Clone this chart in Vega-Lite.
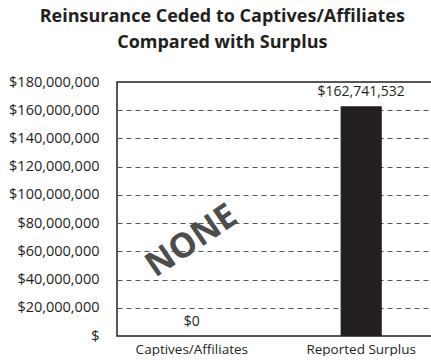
{
  "$schema": "https://vega.github.io/schema/vega-lite/v6.json",
  "width": 319,
  "height": 254,
  "autosize": {"type": "pad"},
  "padding": {"left": 8, "top": 8, "right": 0, "bottom": 0},
  "background": "white",
  "title": {
    "text": ["Reinsurance Ceded to Captives/Affiliates", "Compared with Surplus"],
    "font": "Open Sans",
    "fontSize": 18,
    "fontWeight": "bold",
    "color": "#231f20",
    "anchor": "middle",
    "frame": "bounds",
    "lineHeight": 26,
    "offset": 22
  },
  "config": {
    "view": {"stroke": "#231f20", "strokeWidth": 1.5},
    "text": {"font": "Open Sans"},
    "axis": {
      "title": null,
      "ticks": false,
      "domain": false,
      "labelFont": "Open Sans",
      "labelColor": "#231f20"
    },
    "axisX": {
      "labelAngle": 0,
      "grid": false,
      "labelPadding": 6,
      "labelFontSize": 13.5
    },
    "axisY": {
      "tickCount": 9,
      "labelExpr": "datum.value == 0 ? '$' : '$' + format(datum.value, ',')",
      "labelOverlap": false,
      "grid": true,
      "gridDash": [5, 4],
      "gridColor": "#555555",
      "gridWidth": 1,
      "labelPadding": 18,
      "labelFontSize": 14.5
    }
  },
  "data": {
    "values": [
      {"category": "Captives/Affiliates", "amount": 0, "label": "$0"},
      {"category": "Reported Surplus", "amount": 162741532, "label": "$162,741,532"}
    ]
  },
  "layer": [
    {
      "mark": {"type": "bar", "color": "#231f20"},
      "encoding": {
        "x": {
          "field": "category",
          "type": "nominal",
          "sort": null,
          "title": null,
          "scale": {"paddingInner": 0.757, "paddingOuter": 0.32}
        },
        "y": {
          "field": "amount",
          "type": "quantitative",
          "title": null,
          "scale": {"domain": [0, 180000000], "nice": false}
        }
      }
    },
    {
      "mark": {"type": "text", "baseline": "bottom", "dy": -7, "fontSize": 14, "color": "#231f20"},
      "encoding": {
        "x": {"field": "category", "type": "nominal", "sort": null, "title": null},
        "y": {"field": "amount", "type": "quantitative", "title": null},
        "text": {"field": "label"}
      }
    },
    {
      "data": {"values": [{"word": "NONE"}]},
      "mark": {"type": "text", "angle": 326, "fontSize": 34, "fontWeight": "bold", "color": "#4d4d4d"},
      "encoding": {
        "x": {"datum": "Captives/Affiliates", "type": "nominal", "title": null},
        "y": {"datum": 67000000, "type": "quantitative", "title": null},
        "text": {"field": "word"}
      }
    }
  ]
}
